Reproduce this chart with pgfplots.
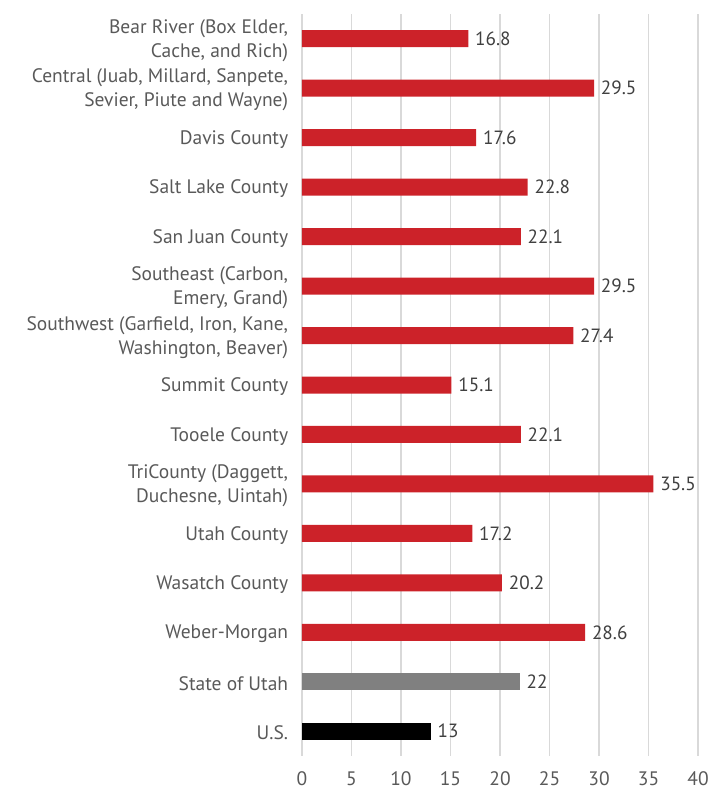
\documentclass[border=0pt]{standalone}
\usepackage{pgfplots}
\pgfplotsset{compat=1.18}
\usepackage{fontspec}
\setmainfont{PT Sans}
\definecolor{barred}{HTML}{CC2229}
\definecolor{bargray}{HTML}{808080}
\definecolor{gridc}{HTML}{D9D9D9}
\definecolor{labc}{HTML}{595959}
\definecolor{valc}{HTML}{404040}
\begin{document}
\begin{tikzpicture}
\begin{axis}[
 scale only axis, width=237.6pt, height=445.2pt,
 xbar, bar width=10.2pt, bar shift=0pt,
 xmin=0, xmax=40, ymin=-0.5, ymax=14.5, y dir=reverse,
 xtick={0,5,...,40}, ytick={0,...,14},
 yticklabels={{Bear River (Box Elder,\\Cache, and Rich)},
  {Central (Juab, Millard, Sanpete,\\Sevier, Piute and Wayne)},
  {Davis County},{Salt Lake County},{San Juan County},
  {Southeast (Carbon,\\Emery, Grand)},
  {Southwest (Garfield, Iron, Kane,\\Washington, Beaver)},
  {Summit County},{Tooele County},
  {TriCounty (Daggett,\\Duchesne, Uintah)},
  {Utah County},{Wasatch County},{Weber-Morgan},{State of Utah},{U.S.}},
 xmajorgrids, grid style={draw=gridc, line width=0.75pt},
 axis line style={draw=none}, major tick length=0pt,
 tick label style={font=\fontsize{11.7}{14.4}\selectfont, text=labc},
 yticklabel style={align=right, xshift=-4.8pt, yshift=-1pt},
 xticklabel style={yshift=-6pt},
 /pgf/number format/assume math mode=true,
 nodes near coords,
 nodes near coords style={font=\fontsize{11.5}{14.4}\selectfont, text=valc, anchor=west, xshift=0.6pt},
]
\addplot[fill=barred, draw=none] coordinates {(16.8,0) (29.5,1) (17.6,2) (22.8,3) (22.1,4) (29.5,5) (27.4,6) (15.1,7) (22.1,8) (35.5,9) (17.2,10) (20.2,11) (28.6,12)};
\addplot[fill=bargray, draw=none] coordinates {(22,13)};
\addplot[fill=black, draw=none] coordinates {(13,14)};
\end{axis}
\pgfresetboundingbox
\useasboundingbox ([xshift=-181.2pt,yshift=-22.2pt]current axis.south west) rectangle ([xshift=16.8pt,yshift=8.4pt]current axis.north east);
\end{tikzpicture}
\end{document}
